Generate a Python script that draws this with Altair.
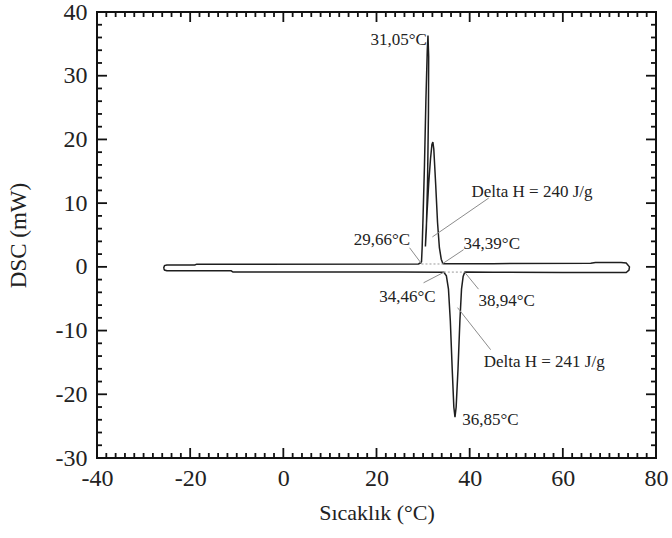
import altair as alt
import pandas as pd

# DSC trace: one closed loop (upper branch left->right, lower branch right->left)
curve_x = [-25.7, -25.5, -25.0, -19.0, -18.6, 29.0, 29.4, 29.66, 29.8, 30.0, 30.3, 30.6,
           30.9, 31.05, 31.2, 31.15, 30.95, 30.7, 30.5, 30.6, 30.85, 31.2, 31.6, 31.9,
           32.1, 32.3, 32.7, 33.1, 33.5, 33.9, 34.2, 34.39, 45.0, 66.0, 67.0, 72.5, 73.6,
           74.3, 74.2, 73.6, 60.0, 45.0, 39.2, 38.94, 38.6, 38.25, 37.9, 37.5, 37.1, 36.85,
           36.6, 36.25, 35.85, 35.45, 35.0, 34.46, 25.0, -10.8, -11.2, -25.0, -25.5, -25.7]
curve_y = [-0.2, 0.2, 0.3, 0.3, 0.42, 0.45, 0.6, 0.8, 3.0, 8.0, 16.0, 26.0,
           34.0, 36.3, 33.0, 24.0, 13.0, 6.0, 3.2, 5.0, 8.5, 13.0, 17.0, 19.2,
           19.6, 18.5, 13.0, 7.0, 3.0, 1.2, 0.6, 0.5, 0.5, 0.55, 0.7, 0.7, 0.6,
           0.0, -0.5, -0.88, -0.88, -0.85, -0.82, -0.85, -1.5, -3.5, -8.5, -16.0, -22.0, -23.6,
           -22.0, -16.0, -8.5, -3.5, -1.4, -0.85, -0.82, -0.82, -0.62, -0.62, -0.5, -0.2]

# Integration baselines (dotted)
base_x1 = [29.66, 34.46]
base_x2 = [34.39, 38.94]
base_y = [0.45, -0.82]

# Annotation texts and their leader lines
lab_right_text = ["31,05°C", "29,66°C", "34,46°C"]
lab_right_x = [30.8, 27.2, 32.7]
lab_right_y = [35.6, 4.2, -4.8]

lab_left_text = ["Delta H = 240 J/g", "34,39°C", "38,94°C", "Delta H = 241 J/g", "36,85°C"]
lab_left_x = [40.4, 38.7, 41.9, 43.0, 38.4]
lab_left_y = [11.8, 3.6, -5.4, -15.0, -24.1]

lead_x1 = [44.1, 38.7, 27.1, 30.1, 38.94, 44.5]
lead_y1 = [10.8, 2.7, 3.0, -2.5, -0.85, -13.0]
lead_x2 = [32.0, 34.39, 29.66, 34.46, 41.9, 37.4]
lead_y2 = [4.7, 0.6, 0.5, -0.85, -3.5, -6.4]

x_major = [-40, -20, 0, 20, 40, 60, 80]
y_major = [-30, -20, -10, 0, 10, 20, 30, 40]
x_minor = [v for v in range(-40, 81, 2) if v % 20]
y_minor = [v for v in range(-30, 41, 2) if v % 10]

W, H = 559, 446
X0, X1, Y0, Y1 = -40, 80, -30, 40
FONT = "Liberation Serif"

xs = alt.Scale(domain=[X0, X1], nice=False, zero=False)
ys = alt.Scale(domain=[Y0, Y1], nice=False, zero=False)
x_axis = alt.Axis(values=x_major, labelExpr="'' + datum.value", title="Sıcaklık (°C)",
                  titlePadding=12, labelPadding=8, titleFontSize=22, labelFlush=False)
y_axis = alt.Axis(values=y_major, labelExpr="'' + datum.value", title="DSC (mW)",
                  titlePadding=25, labelPadding=10, titleFontSize=23, labelFlush=False)


def X(field):
    return alt.X(field, type="quantitative", scale=xs, axis=x_axis)


def Y(field):
    return alt.Y(field, type="quantitative", scale=ys, axis=y_axis)


curve_df = pd.DataFrame({"x": curve_x, "y": curve_y, "i": range(len(curve_x))})
curve = alt.Chart(curve_df).mark_line(color="#1e1e1e", strokeWidth=1.5).encode(
    x=X("x"), y=Y("y"), order=alt.Order("i:Q"))

base_df = pd.DataFrame({"x1": base_x1, "x2": base_x2, "y": base_y})
baselines = alt.Chart(base_df).mark_rule(color="#9a9a9a", strokeWidth=1, strokeDash=[2, 2]).encode(
    x=X("x1"), x2="x2", y=Y("y"))

lead_df = pd.DataFrame({"x1": lead_x1, "y1": lead_y1, "x2": lead_x2, "y2": lead_y2})
leaders = alt.Chart(lead_df).mark_rule(color="#8c8c8c", strokeWidth=1).encode(
    x=X("x1"), y=Y("y1"), x2="x2", y2="y2")

rt_df = pd.DataFrame({"x": lab_right_x, "y": lab_right_y, "t": lab_right_text})
lt_df = pd.DataFrame({"x": lab_left_x, "y": lab_left_y, "t": lab_left_text})
text_right = alt.Chart(rt_df).mark_text(align="right", baseline="middle", font=FONT,
                                        fontSize=17, color="#222").encode(
    x=X("x"), y=Y("y"), text="t:N")
text_left = alt.Chart(lt_df).mark_text(align="left", baseline="middle", font=FONT,
                                       fontSize=17, color="#222").encode(
    x=X("x"), y=Y("y"), text="t:N")

# Inward ticks on all four sides, each one a two-point line (id g);
# tick length in pixels converted to data units.
PX_X = (X1 - X0) / W
PX_Y = (Y1 - Y0) / H
pts = []
g = 0
for vals, n in ((x_major, 10), (x_minor, 5)):
    for v in vals:
        for ya, yb in ((Y0, Y0 + n * PX_Y), (Y1, Y1 - n * PX_Y)):
            pts += [(g, 0, float(v), float(ya)), (g, 1, float(v), float(yb))]
            g += 1
for vals, n in ((y_major, 10), (y_minor, 5)):
    for v in vals:
        for xa, xb in ((X0, X0 + n * PX_X), (X1, X1 - n * PX_X)):
            pts += [(g, 0, float(xa), float(v)), (g, 1, float(xb), float(v))]
            g += 1
tick_df = pd.DataFrame(pts, columns=["g", "k", "tx", "ty"])
ticks = alt.Chart(tick_df).mark_line(color="#111", strokeWidth=1.8).encode(
    x=X("tx"), y=Y("ty"), detail="g:N", order=alt.Order("k:Q"))

chart = alt.layer(curve, baselines, leaders, text_right, text_left, ticks).properties(
    width=W, height=H,
    autosize=alt.AutoSizeParams(type="none"),
    padding={"left": 97, "top": 12, "right": 16, "bottom": 80},
).configure_view(
    stroke="#111", strokeWidth=2
).configure_axis(
    domain=False, ticks=False, grid=False,
    labelFont=FONT, labelFontSize=24, labelColor="#222",
    titleFont=FONT, titleFontWeight="normal", titleColor="#222",
)

chart.save("out.html", embed_options={"renderer": "svg", "actions": False})
